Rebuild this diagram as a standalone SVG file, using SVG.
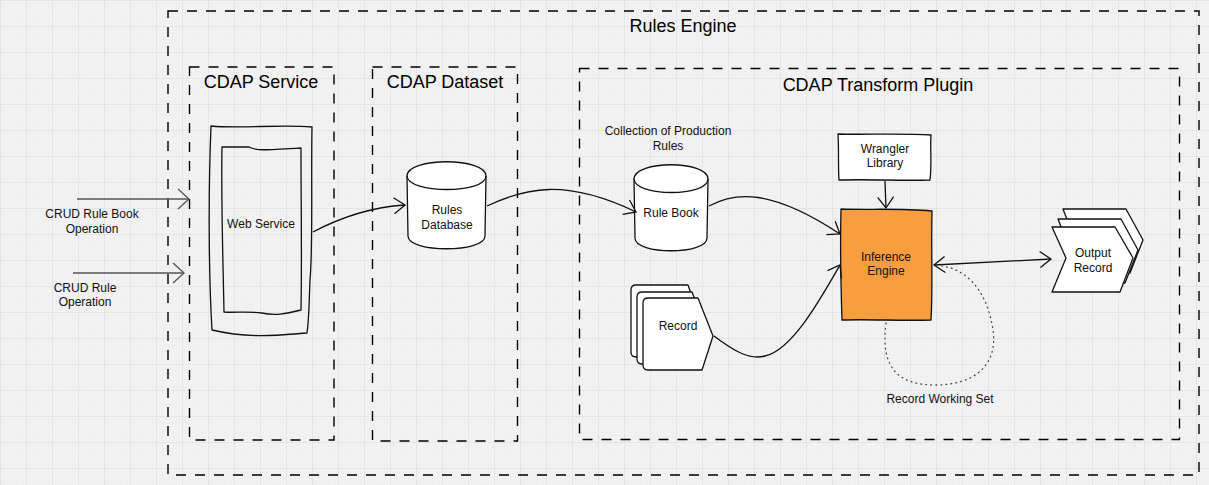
<svg xmlns="http://www.w3.org/2000/svg" width="1209" height="485" viewBox="0 0 1209 485">
<style>
.box{fill:none;stroke:#000;stroke-width:1.4;stroke-dasharray:10 9}
.title{font-family:"Liberation Sans",Arial,sans-serif;font-size:18px;fill:#000;text-anchor:middle}
.lbl{font-family:"Liberation Sans",Arial,sans-serif;font-size:12px;fill:#111;text-anchor:middle}
.sk{stroke:#111;stroke-width:1.3;stroke-linejoin:round}
.con{fill:none;stroke:#111;stroke-width:1.3}
.gray{fill:none;stroke:#555;stroke-width:1.6}
.dot{fill:none;stroke:#444;stroke-width:1.3;stroke-dasharray:0.8 4.2;stroke-linecap:round}
</style>
<defs>
<pattern id="dots" width="3.25" height="3.25" patternUnits="userSpaceOnUse">
<rect width="1" height="1" fill="#e9e9e9"/>
</pattern>
<pattern id="grid" width="26" height="26" patternUnits="userSpaceOnUse">
<rect width="26" height="26" fill="url(#dots)"/>
<path d="M0,0.5 H26 M0.5,0 V26" stroke="#e5e5e5" stroke-width="1"/>
</pattern>
<marker id="arr" markerUnits="userSpaceOnUse" viewBox="-14 -12 16 24" markerWidth="16" markerHeight="24" refX="0" refY="0" orient="auto-start-reverse">
<path d="M-11,-8 L0,0 L-11,8" fill="none" stroke="#111" stroke-width="1.3"/>
</marker>
<marker id="arrg" markerUnits="userSpaceOnUse" viewBox="-14 -12 16 24" markerWidth="16" markerHeight="24" refX="0" refY="0" orient="auto">
<path d="M-11,-10 L0,0 L-11,10" fill="none" stroke="#555" stroke-width="1.3"/>
</marker>
</defs>
<rect width="1209" height="485" fill="#f2f2f2"/>
<rect width="1209" height="485" fill="url(#grid)"/>

<g id="rules-engine">
<rect class="box" x="168" y="11" width="1031" height="464"/>
<text class="title" x="683" y="32">Rules Engine</text>
</g>
<g id="cdap-service">
<rect class="box" x="189.5" y="67" width="144.5" height="373"/>
<text class="title" x="261" y="88">CDAP Service</text>
</g>
<g id="cdap-dataset">
<rect class="box" x="372.5" y="67" width="145" height="374"/>
<text class="title" x="445" y="88">CDAP Dataset</text>
</g>
<g id="cdap-transform-plugin">
<rect class="box" x="579.5" y="68.5" width="600" height="371"/>
<text class="title" x="878" y="91">CDAP Transform Plugin</text>
</g>

<g id="web-service">
<path class="sk" fill="none" d="M211,126 C240,129 280,124 312,127 C311,180 313,250 310,280 C309,305 309,320 307,333 C280,335 250,339 212,330 C209,280 208,200 211,126 Z"/>
<path class="sk" fill="none" d="M222,147 L249,147 C256,151 268,150 301,148 C301,200 302,260 301,310 C285,314 275,316 262,313 C245,311 235,313 224,312 C223,260 221,200 222,147 Z"/>
<text class="lbl" x="261" y="228">Web Service</text>
</g>

<g id="rules-database">
<path class="sk" fill="#fff" d="M407,176 C407,157 486,157 486,176 L485,236 C485,253 408,253 408,236 Z"/>
<path class="sk" fill="none" d="M407,176 C408,194 486,194 486,176"/>
<text class="lbl" x="447" y="214">Rules</text>
<text class="lbl" x="447" y="229">Database</text>
</g>

<g id="collection-label">
<text class="lbl" x="668" y="135">Collection of Production</text>
<text class="lbl" x="668" y="150">Rules</text>
</g>

<g id="rule-book">
<path class="sk" fill="#fff" d="M634,179 C634,160 708,160 708,179 L707,238 C707,255 635,255 635,238 Z"/>
<path class="sk" fill="none" d="M634,179 C635,197 708,197 708,179"/>
<text class="lbl" x="671" y="217">Rule Book</text>
</g>

<g id="wrangler-library">
<path class="sk" fill="#fff" d="M838,134 C860,135 900,133 931,135 C930,150 932,165 930,180 C900,181 870,179 839,180 C838,165 839,150 838,134 Z"/>
<text class="lbl" x="885" y="153">Wrangler</text>
<text class="lbl" x="885" y="167">Library</text>
</g>

<g id="inference-engine">
<path class="sk" fill="#f89e3f" d="M841,209 C870,210 900,208 932,211 C931,250 933,290 931,320 C900,321 870,319 842,320 C841,290 840,250 841,209 Z"/>
<text class="lbl" x="886" y="261">Inference</text>
<text class="lbl" x="886" y="275">Engine</text>
</g>

<g id="record">
<path class="sk" fill="#fff" d="M636,285 L688,285 L701,323 L690,357 L636,357 Q631,357 631,352 L631,290 Q631,285 636,285 Z"/>
<path class="sk" fill="#fff" d="M642,292 L692,292 L707,330 L696,364 L642,364 Q637,364 637,359 L637,297 Q637,292 642,292 Z"/>
<path class="sk" fill="#fff" d="M648,298 L698,298 L713,336 L702,370 L648,370 Q643,370 643,365 L643,303 Q643,298 648,298 Z"/>
<text class="lbl" x="678" y="330">Record</text>
</g>

<g id="output-record">
<path class="sk" fill="#fff" d="M1063,209 L1126,209 L1143,240 L1130,273 L1063,273 L1075,240 Z"/>
<path class="sk" fill="#fff" d="M1058,219 L1121,219 L1138,250 L1125,283 L1058,283 L1070,250 Z"/>
<path class="sk" fill="#fff" d="M1052,227 L1115,227 L1133,258 L1120,292 L1052,292 L1066,258 Z"/>
<text class="lbl" x="1093" y="257">Output</text>
<text class="lbl" x="1093" y="272">Record</text>
</g>

<g id="record-working-set-label">
<text class="lbl" x="940" y="403">Record Working Set</text>
</g>

<g id="connectors">
<path class="gray" d="M77,199 L189,199" marker-end="url(#arrg)"/>
<path class="gray" d="M73,273 L184,273" marker-end="url(#arrg)"/>
<path class="con" d="M313,232 C345,215 375,207 405,205" marker-end="url(#arr)"/>
<path class="con" d="M487,206 C525,188 565,178 636,212" marker-end="url(#arr)"/>
<path class="con" d="M709,206 C735,192 770,188 840,234" marker-end="url(#arr)"/>
<path class="con" d="M714,336 C735,352 750,360 765,356 C792,350 820,300 840,265" marker-end="url(#arr)"/>
<path class="con" d="M885,181 L886,208" marker-end="url(#arr)"/>
<path class="con" d="M934,265 L1051,259" marker-start="url(#arr)" marker-end="url(#arr)"/>
<path class="dot" d="M886,323 C880,370 900,385 935,385 C975,385 998,365 993,330 C988,295 970,270 942,266"/>
</g>
<g id="crud-labels">
<text class="lbl" x="92" y="218">CRUD Rule Book</text>
<text class="lbl" x="92" y="233">Operation</text>
<text class="lbl" x="85" y="292">CRUD Rule</text>
<text class="lbl" x="85" y="306">Operation</text>
</g>
</svg>
